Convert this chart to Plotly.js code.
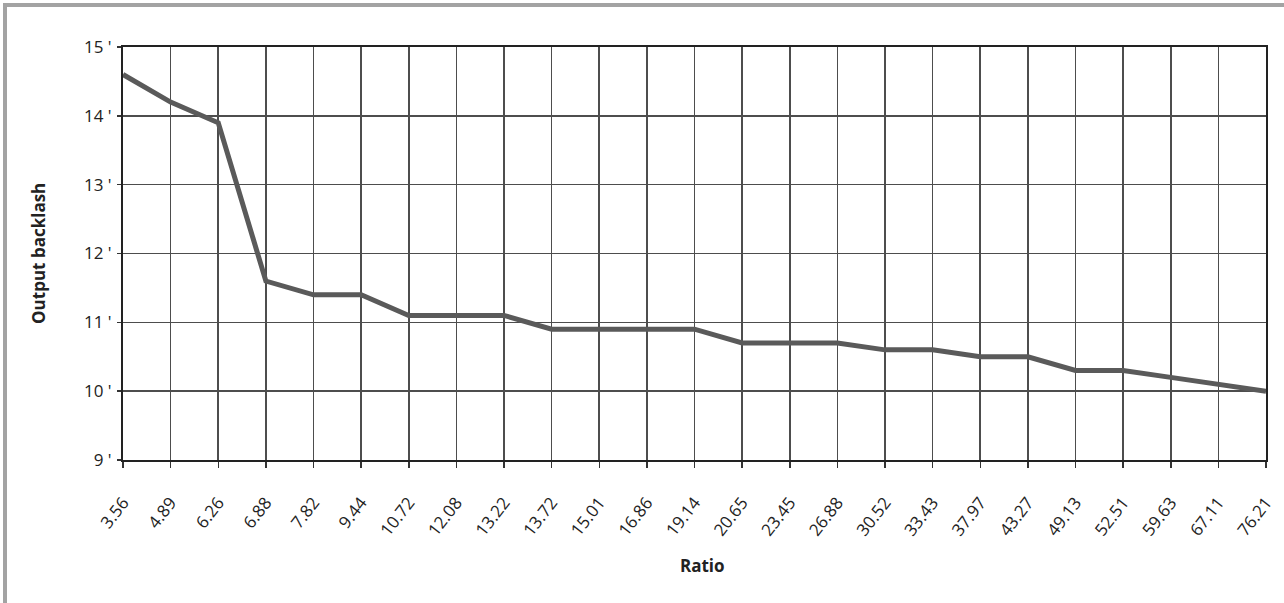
<!DOCTYPE html>
<html>
<head>
<meta charset="utf-8">
<script src="https://cdn.plot.ly/plotly-3.0.1.min.js"></script>
<style>
html,body{margin:0;padding:0;background:#fff;overflow:hidden;}
#chart{position:absolute;left:0;top:0;width:1284px;height:603px;}
#frame{position:absolute;left:3px;top:3px;width:1300px;height:700px;border-top:4px solid #a3a3a3;border-left:4px solid #a3a3a3;pointer-events:none;box-sizing:border-box;}
</style>
</head>
<body>
<div id="chart"></div>
<div id="frame"></div>
<script>
const ratios = ["3.56","4.89","6.26","6.88","7.82","9.44","10.72","12.08","13.22","13.72","15.01","16.86","19.14","20.65","23.45","26.88","30.52","33.43","37.97","43.27","49.13","52.51","59.63","67.11","76.21"];
const backlash = [14.6,14.2,13.9,11.6,11.4,11.4,11.1,11.1,11.1,10.9,10.9,10.9,10.9,10.7,10.7,10.7,10.6,10.6,10.5,10.5,10.3,10.3,10.2,10.1,10.0];
const yTickVals = [9,10,11,12,13,14,15];
const yTickText = ["9 '","10 '","11 '","12 '","13 '","14 '","15 '"];

const trace = {
  x: ratios.map((_, i) => i),
  y: backlash,
  type: 'scatter',
  mode: 'lines',
  line: {color: '#5a5a5a', width: 5},
  hoverinfo: 'x+y'
};

const layout = {
  width: 1284, height: 603,
  margin: {l: 123, r: 18, t: 47, b: 143},
  paper_bgcolor: '#fff',
  plot_bgcolor: '#fff',
  showlegend: false,
  font: {family: '"Open Sans", "Noto Sans", sans-serif', color: '#222', size: 17},
  xaxis: {
    range: [0, ratios.length - 1],
    tickmode: 'array',
    tickvals: ratios.map((_, i) => i),
    ticktext: ratios,
    tickangle: -52,
    ticks: 'outside', ticklen: 6, tickwidth: 1.5, tickcolor: '#333',
    ticklabelstandoff: 18,
    showgrid: true, gridcolor: '#4d4d4d', gridwidth: 1.6,
    showline: true, linecolor: '#222', linewidth: 2, mirror: true,
    zeroline: false,
    tickfont: {size: 17}
  },
  yaxis: {
    range: [9, 15],
    tickmode: 'array',
    tickvals: yTickVals,
    ticktext: yTickText,
    ticks: 'outside', ticklen: 4, tickwidth: 1.5, tickcolor: '#333',
    ticklabelstandoff: 2,
    showgrid: true, gridcolor: '#4d4d4d', gridwidth: 1.6,
    showline: true, linecolor: '#222', linewidth: 2, mirror: true,
    zeroline: false,
    tickfont: {size: 17}
  },
  annotations: [
    {text: '<b>Ratio</b>', xref: 'paper', yref: 'paper', x: 0.507, y: -0.255,
     xanchor: 'center', yanchor: 'middle', showarrow: false, font: {size: 17, color: '#222'}},
    {text: '<b>Output backlash</b>', xref: 'paper', yref: 'paper', x: -0.074, y: 0.5,
     xanchor: 'center', yanchor: 'middle', textangle: -90, showarrow: false, font: {size: 17, color: '#222'}}
  ]
};

Plotly.newPlot('chart', [trace], layout, {staticPlot: true, displayModeBar: false});
</script>
</body>
</html>
